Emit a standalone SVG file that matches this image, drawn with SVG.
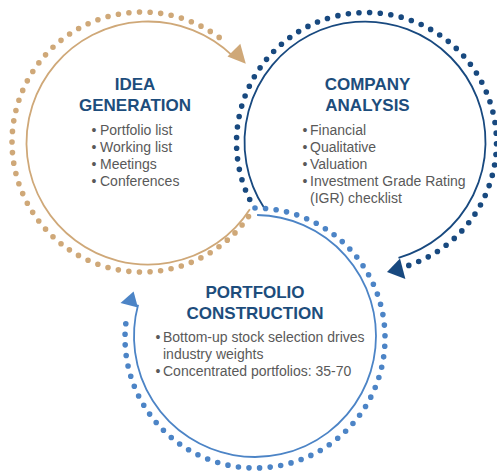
<svg xmlns="http://www.w3.org/2000/svg" width="497" height="473" viewBox="0 0 497 473">
<style>
  .dots { fill: none; stroke-width: 5.6; stroke-linecap: round; stroke-dasharray: 0 1; }
  .line { fill: none; stroke-width: 1.8; }
  .tan { stroke: #CFA878; }
  .tanf { fill: #CFA878; }
  .dark { stroke: #18497F; }
  .darkf { fill: #18497F; }
  .light { stroke: #4C84C6; }
  .lightf { fill: #4C84C6; }
  .title { font-family: "Liberation Sans", Arial, sans-serif; font-size: 17px; font-weight: bold; fill: #1D4D7C; text-anchor: middle; }
  .body { font-family: "Liberation Sans", Arial, sans-serif; font-size: 14px; fill: #595959; }
</style>
<rect width="497" height="473" fill="#FFFFFF"/>
<g id="connectors">
  <!-- Idea Generation ring (tan) -->
  <path class="line tan" d="M249.9,209.2 A121.5,121.5 0 1 1 232.4,55.6"/>
  <path class="dots tan" pathLength="59" d="M248.5,216.6 A130,130 0 1 1 227.3,43.9"/>
  <polygon class="tanf" points="240.3,43.7 227.5,56.5 245.8,63.8"/>
  <!-- Company Analysis ring (dark blue) -->
  <path class="line dark" d="M263.9,207.6 A120.5,120.5 0 1 1 398.5,257.8"/>
  <path class="dots dark" pathLength="59" d="M249.7,199.5 A130,130 0 1 1 408.8,265.4"/>
  <polygon class="darkf" points="400,258.5 405.4,279 387,271.9"/>
  <!-- Portfolio Construction ring (light blue) -->
  <path class="line light" d="M257.1,215 A121,121 0 1 1 138.1,304.7"/>
  <path class="dots light" pathLength="60" d="M255,208 A130,130 0 1 1 127.4,313.2"/>
  <polygon class="lightf" points="120.5,302.9 137.9,307.5 133.6,291.4"/>
</g>
<g id="node-idea-generation">
  <text class="title" x="135" y="90">IDEA</text>
  <text class="title" x="135" y="111">GENERATION</text>
  <text class="body" y="135"><tspan x="91.5">•</tspan><tspan x="100">Portfolio list</tspan></text>
  <text class="body" y="152"><tspan x="91.5">•</tspan><tspan x="100">Working list</tspan></text>
  <text class="body" y="169"><tspan x="91.5">•</tspan><tspan x="100">Meetings</tspan></text>
  <text class="body" y="186"><tspan x="91.5">•</tspan><tspan x="100">Conferences</tspan></text>
</g>
<g id="node-company-analysis">
  <text class="title" x="367.5" y="90">COMPANY</text>
  <text class="title" x="367.5" y="111">ANALYSIS</text>
  <text class="body" y="135"><tspan x="302.5">•</tspan><tspan x="310">Financial</tspan></text>
  <text class="body" y="152"><tspan x="302.5">•</tspan><tspan x="310">Qualitative</tspan></text>
  <text class="body" y="169"><tspan x="302.5">•</tspan><tspan x="310">Valuation</tspan></text>
  <text class="body" y="186"><tspan x="302.5">•</tspan><tspan x="310">Investment Grade Rating</tspan></text>
  <text class="body" x="310" y="203">(IGR) checklist</text>
</g>
<g id="node-portfolio-construction">
  <text class="title" x="255" y="298">PORTFOLIO</text>
  <text class="title" x="255" y="319">CONSTRUCTION</text>
  <text class="body" y="342"><tspan x="155.5">•</tspan><tspan x="163">Bottom-up stock selection drives</tspan></text>
  <text class="body" x="163" y="359">industry weights</text>
  <text class="body" y="376"><tspan x="155.5">•</tspan><tspan x="163">Concentrated portfolios: 35-70</tspan></text>
</g>
</svg>
